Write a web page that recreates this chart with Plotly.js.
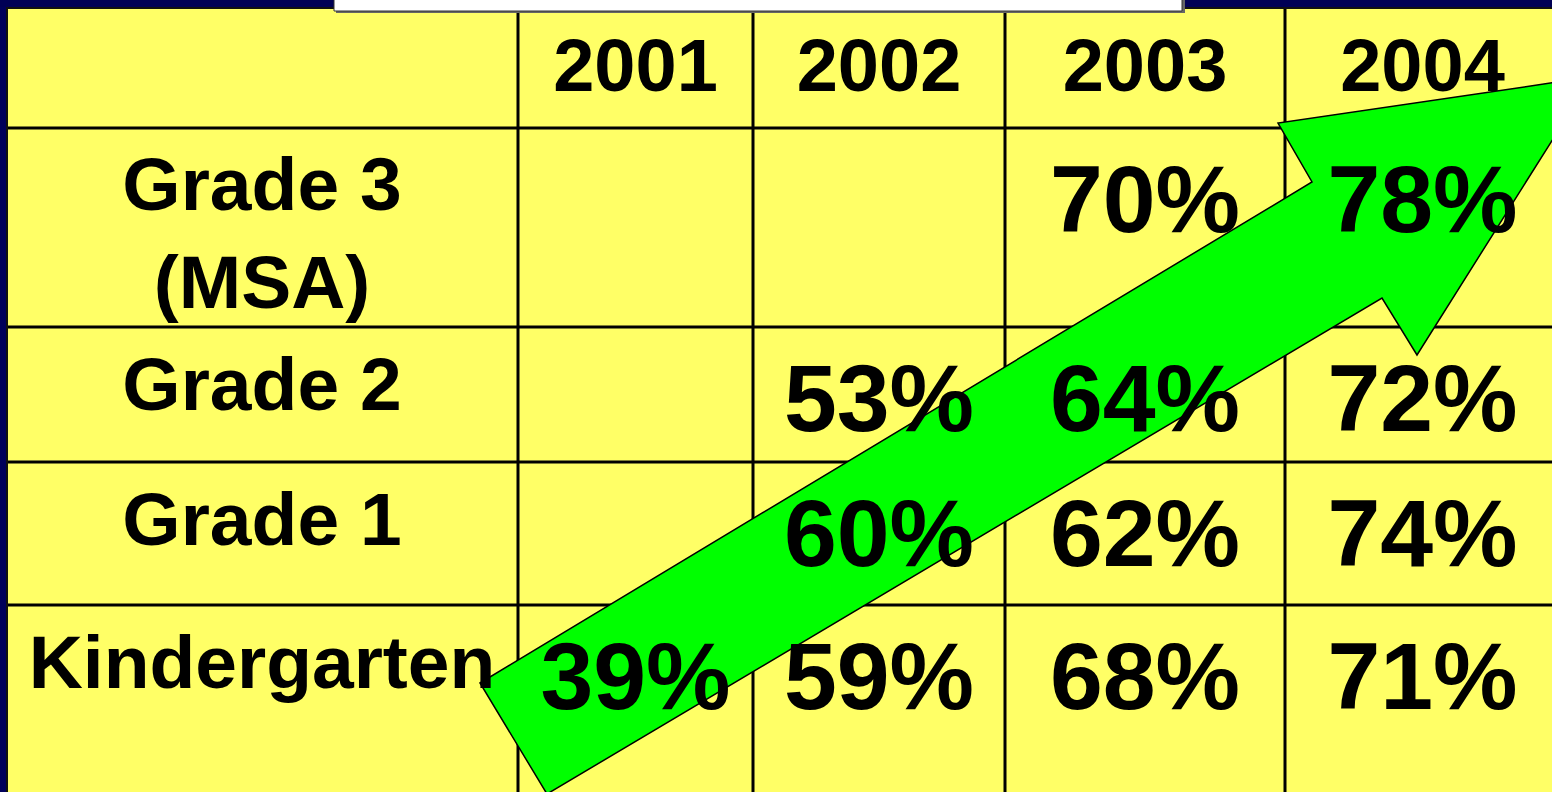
<!DOCTYPE html>
<html>
<head>
<meta charset="utf-8">
<script src="https://cdn.plot.ly/plotly-3.0.1.min.js"></script>
<style>
html,body{margin:0;padding:0;background:#FFFF66;overflow:hidden;}
#chart{width:1552px;height:792px;}
</style>
</head>
<body>
<div id="chart"></div>
<script>
// ---- data ----
const years = ['2001', '2002', '2003', '2004'];
const grades = ['Grade 3<br>(MSA)', 'Grade 2', 'Grade 1', 'Kindergarten'];
const grade3 = [null, null, 70, 78];
const grade2 = [null, 53, 64, 72];
const grade1 = [null, 60, 62, 74];
const kindergarten = [39, 59, 68, 71];

// ---- layout geometry (pixel-like axis units) ----
const W = 1552, H = 792;
const colEdges = [6, 518, 753, 1005, 1285, 1560];
const rowEdges = [7, 128, 327, 462, 605, 800];
const headerOffset = 65;   // text centre below row top
const labelOffset = 64;
const valueOffset = 80;

const FONT = 'Liberation Sans, Arial, Helvetica, sans-serif';
const colCenter = i => (colEdges[i] + colEdges[i + 1]) / 2;

const traces = [];
// header years
traces.push({
  type: 'scatter', mode: 'text', hoverinfo: 'skip', showlegend: false,
  x: years.map((_, i) => colCenter(i + 1)),
  y: years.map(() => rowEdges[0] + headerOffset),
  text: years.map(t => '<b>' + t + '</b>'),
  textposition: 'middle center',
  textfont: {family: FONT, size: 74, color: '#000000'}
});
// row labels
traces.push({
  type: 'scatter', mode: 'text', hoverinfo: 'skip', showlegend: false,
  x: grades.map(() => colCenter(0)),
  y: grades.map((g, r) => rowEdges[r + 1] + labelOffset + (g.indexOf('<br>') >= 0 ? 48 : 0)),
  text: grades.map(t => '<b>' + t + '</b>'),
  textposition: 'middle center',
  textfont: {family: FONT, size: 75, color: '#000000'}
});
// values
[grade3, grade2, grade1, kindergarten].forEach((row, r) => {
  traces.push({
    type: 'scatter', mode: 'text', hoverinfo: 'skip', showlegend: false,
    x: row.map((_, i) => colCenter(i + 1)),
    y: row.map(() => rowEdges[r + 1] + valueOffset),
    text: row.map(v => v === null ? '' : '<b>' + v + '%</b>'),
    textposition: 'middle center',
    textfont: {family: FONT, size: 95, color: '#000000'}
  });
});

const shapes = [];
// grid lines
colEdges.slice(1, 5).forEach(x => shapes.push({
  type: 'line', xref: 'x', yref: 'y', x0: x, x1: x, y0: rowEdges[0], y1: H + 10,
  line: {color: '#000000', width: 3}, layer: 'below'
}));
rowEdges.slice(1, 5).forEach(y => shapes.push({
  type: 'line', xref: 'x', yref: 'y', x0: colEdges[0], x1: W + 10, y0: y, y1: y,
  line: {color: '#000000', width: 3}, layer: 'below'
}));
// outer frame: navy band + black edge
shapes.push({type: 'rect', xref: 'x', yref: 'y', x0: 0, x1: colEdges[0], y0: 0, y1: H + 5,
  fillcolor: '#00005A', line: {width: 0}, layer: 'below'});
shapes.push({type: 'rect', xref: 'x', yref: 'y', x0: 0, x1: W + 5, y0: 0, y1: rowEdges[0],
  fillcolor: '#000055', line: {width: 0}, layer: 'below'});
shapes.push({type: 'line', xref: 'x', yref: 'y', x0: colEdges[0] + 1, x1: colEdges[0] + 1, y0: rowEdges[0], y1: H + 5,
  line: {color: '#111111', width: 2}, layer: 'below'});
shapes.push({type: 'line', xref: 'x', yref: 'y', x0: colEdges[0], x1: W + 5, y0: rowEdges[0] + 1, y1: rowEdges[0] + 1,
  line: {color: '#111111', width: 2}, layer: 'below'});
// title box (cut off at top)
shapes.push({type: 'rect', xref: 'x', yref: 'y', x0: 336, x1: 1185, y0: -5, y1: 13,
  fillcolor: '#666666', line: {width: 0}, layer: 'below'});
shapes.push({type: 'rect', xref: 'x', yref: 'y', x0: 334, x1: 1182, y0: -5, y1: 11,
  fillcolor: '#FFFFFF', line: {color: '#333333', width: 1}, layer: 'below'});
// green arrow
shapes.push({type: 'path', xref: 'x', yref: 'y',
  path: 'M 480 683 L 1312 182 L 1278 123 L 1592 77 L 1417 355 L 1382 298 L 547 794 Z',
  fillcolor: '#00FF00', line: {color: '#000000', width: 1.5}, layer: 'below'});

const layout = {
  width: W, height: H,
  margin: {l: 0, r: 0, t: 0, b: 0, pad: 0},
  paper_bgcolor: '#FFFF66', plot_bgcolor: '#FFFF66',
  xaxis: {range: [0, W], visible: false, fixedrange: true},
  yaxis: {range: [H, 0], visible: false, fixedrange: true},
  shapes: shapes,
  showlegend: false
};

Plotly.newPlot('chart', traces, layout, {displayModeBar: false, staticPlot: true});
</script>
</body>
</html>
